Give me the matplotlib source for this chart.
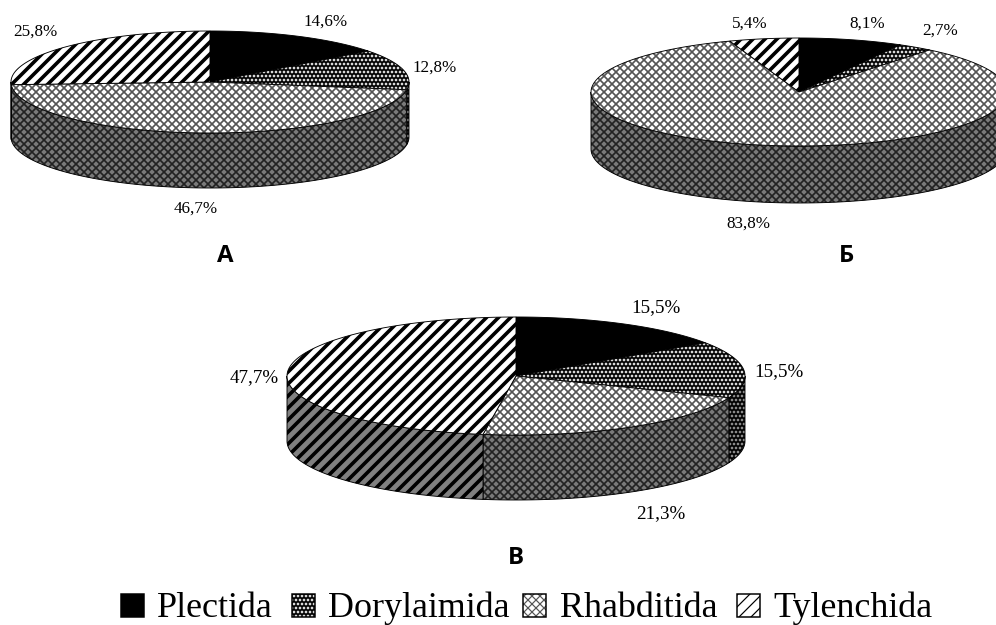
import numpy as np
import matplotlib
matplotlib.use("Agg")
import matplotlib.pyplot as plt
from matplotlib.patches import Polygon, Rectangle

plt.rcParams['font.family'] = ['Liberation Serif', 'DejaVu Serif']

orders = ["Plectida", "Dorylaimida", "Rhabditida", "Tylenchida"]
values_a = [14.6, 12.8, 46.7, 25.8]
values_b = [8.1, 2.7, 83.8, 5.4]
values_c = [15.5, 15.5, 21.3, 47.7]
panel_names = ["А", "Б", "В"]

# face, hatch colour, hatch, hatch width
top_styles = [
    ("black", "black", None, 1),
    ("black", "#d8d8d8", "ooo", 0.9),
    ("white", "#555555", "xxx", 1.7),
    ("white", "black", "//", 3.6),
]
side_styles = [
    ("black", "black", None, 1),
    ("black", "#8a8a8a", "ooo", 0.9),
    ("#7a7a7a", "#222222", "xxx", 1.7),
    ("#808080", "black", "//", 3.6),
]


def hatched(ax, pts, style):
    face, colour, hatch, width = style
    with plt.rc_context({'hatch.linewidth': width}):
        ax.add_patch(Polygon(pts, closed=True, facecolor=face, edgecolor=colour,
                             hatch=hatch, linewidth=0))
    ax.add_patch(Polygon(pts, closed=True, fill=False, edgecolor="black", linewidth=0.9))


def draw_pie(ax, values, cx, cy, rx, ry, depth):
    total = sum(values)
    edges = np.concatenate([[0], np.cumsum(values)]) / total * 360

    def arc(a0, a1):
        t = np.radians(np.linspace(a0, a1, 120))
        return np.column_stack([cx + rx * np.sin(t), cy - ry * np.cos(t)])

    # side wall, only the front half can be seen
    for i in range(len(values)):
        a0 = max(edges[i], 90)
        a1 = min(edges[i + 1], 270)
        if a1 <= a0:
            continue
        rim = arc(a0, a1)
        low = rim[::-1] + [0, depth]
        hatched(ax, np.vstack([rim, low]), side_styles[i])

    # top face
    for i in range(len(values)):
        rim = arc(edges[i], edges[i + 1])
        hatched(ax, np.vstack([[cx, cy], rim]), top_styles[i])


fig = plt.figure(figsize=(996 / 72, 625 / 72), dpi=72)
ax = fig.add_axes([0, 0, 1, 1])
ax.set_xlim(0, 996)
ax.set_ylim(625, 0)
ax.axis("off")

draw_pie(ax, values_a, 210, 82, 199, 51, 55)
draw_pie(ax, values_b, 799, 92, 208, 54, 57)
draw_pie(ax, values_c, 516, 376, 229, 59, 65)

label_pos_a = [(326, 22), (435, 68), (196, 209), (35, 32)]
label_pos_b = [(867, 24), (940, 31), (748, 224), (750, 24)]
label_pos_c = [(656, 308), (779, 372), (661, 514), (254, 378)]

for vals, places, size in [(values_a, label_pos_a, 17), (values_b, label_pos_b, 17),
                           (values_c, label_pos_c, 19)]:
    for v, (x, y) in zip(vals, places):
        ax.text(x, y, f"{v:.1f}%".replace(".", ","), fontsize=size, ha="center", va="center")

for name, x, y in zip(panel_names, [225, 847, 516], [256, 256, 558]):
    ax.text(x, y, name, fontsize=24, fontweight="bold", family="Open Sans",
            ha="center", va="center")

# legend
legend_box_x = [121, 292, 523, 737]
legend_text_x = [157, 328, 560, 773]
for i, name in enumerate(orders):
    style = top_styles[i]
    with plt.rc_context({'hatch.linewidth': min(style[3], 1.2)}):
        ax.add_patch(Rectangle((legend_box_x[i], 594), 23, 23, facecolor=style[0],
                               edgecolor=style[1], hatch=style[2], linewidth=0))
    ax.add_patch(Rectangle((legend_box_x[i], 594), 23, 23, fill=False, edgecolor="black", linewidth=1.5))
    ax.text(legend_text_x[i], 617, name, fontsize=36, ha="left", va="baseline")

fig.savefig("out.png", dpi=72, facecolor="white")
